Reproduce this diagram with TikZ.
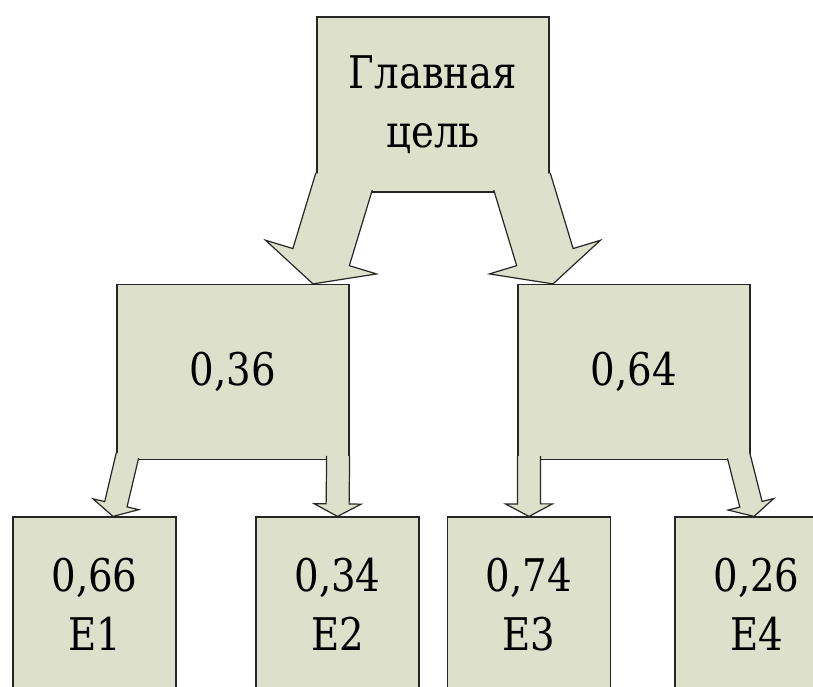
\documentclass[tikz,border=0pt]{standalone}
\usepackage{fontspec}
\newfontfamily\boxfont{DejaVu Serif}[FakeStretch=0.86]
\usetikzlibrary{calc}

\definecolor{boxfill}{RGB}{221,224,203}

\tikzset{
  block/.style={draw=black!85, fill=boxfill, line width=1.2pt, inner sep=0pt,
    align=center, font=\boxfont\fontsize{45}{59}\selectfont},
  bigbox/.style={block, minimum width=232pt, minimum height=175pt},
  leafbox/.style={block, minimum width=163pt, minimum height=175pt},
  outline/.style={draw=black!85, line width=1.2pt},
}

% wide arrow: tail, tip, half shaft, half head, head length
\newcommand{\fatarrow}[5]{%
  \coordinate (h) at ($(#2)!#5!(#1)$);
  \fill[boxfill] ($(#1)!#3!90:(#2)$) -- ($(h)!#3!90:(#2)$) -- ($(h)!#4!90:(#2)$) -- (#2)
    -- ($(h)!#4!-90:(#2)$) -- ($(h)!#3!-90:(#2)$) -- ($(#1)!#3!-90:(#2)$) -- cycle;
  \draw[outline] ($(#1)!#3!90:(#2)$) -- ($(h)!#3!90:(#2)$) -- ($(h)!#4!90:(#2)$) -- (#2)
    -- ($(h)!#4!-90:(#2)$) -- ($(h)!#3!-90:(#2)$) -- ($(#1)!#3!-90:(#2)$);
}

\begin{document}
\begin{tikzpicture}[x=1pt, y=-1pt]
\path[use as bounding box, clip] (0,0) rectangle (813,687);

\node[bigbox] (goal) at (433,104.5) {Главная\\цель};
\node[bigbox] (l) at (233,372) {0,36};
\node[bigbox] (r) at (634,372) {0,64};
\node[leafbox] (e1) at (94.5,604.5) {0,66\\E1};
\node[leafbox] (e2) at (337.5,604.5) {0,34\\E2};
\node[leafbox] (e3) at (529,604.5) {0,74\\E3};
\node[leafbox] (e4) at (756.5,604.5) {0,26\\E4};

% tails sit inside the upper box, tips on the lower box
\coordinate (t1) at ($(goal.south)+(-89,-11)$);
\coordinate (p1) at ($(l.north)+(80,0)$);
\coordinate (t2) at ($(goal.south)+(89,-11)$);
\coordinate (p2) at ($(r.north)+(-81,0)$);
\coordinate (t3) at ($(l.south west)+(11,-4.5)$);
\coordinate (p3) at ($(e1.north)+(18.5,0)$);
\coordinate (t4) at ($(l.south east)+(-11.5,-4)$);
\coordinate (p4) at (e2.north);
\coordinate (t5) at ($(r.south west)+(11.5,-4)$);
\coordinate (p5) at (e3.north);
\coordinate (t6) at ($(r.south east)+(-12,-4.5)$);
\coordinate (p6) at ($(e4.north)+(-2.5,0)$);

\fatarrow{t1}{p1}{29.5pt}{58pt}{28pt}
\fatarrow{t2}{p2}{29.5pt}{58pt}{28pt}
\fatarrow{t3}{p3}{11.5pt}{23.5pt}{12.5pt}
\fatarrow{t4}{p4}{11.5pt}{23.5pt}{12.5pt}
\fatarrow{t5}{p5}{11.5pt}{23.5pt}{12.5pt}
\fatarrow{t6}{p6}{11.5pt}{23.5pt}{12.5pt}
\end{tikzpicture}
\end{document}
